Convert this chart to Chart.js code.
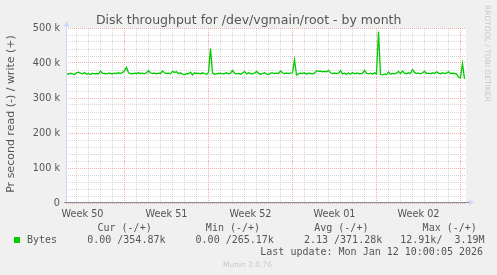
<!DOCTYPE html>
<html>
<head>
<meta charset="utf-8">
<script src="https://cdn.jsdelivr.net/npm/chart.js@4.4.1/dist/chart.umd.min.js"></script>
<style>
html,body{margin:0;padding:0;background:#F0F0F0;}
#wrap{width:497px;height:275px;position:relative;}
canvas{display:block;}
</style>
</head>
<body>
<div id="wrap"><canvas id="c" width="497" height="275"></canvas></div>
<script>
// ---- data (write bytes per second, in k; one value every 4 hours) ----
const seriesName = "Bytes";
const startHour = -116;          // hours relative to Mon Dec 15 2025 00:00
const stepHours = 4;
const writeK = [
 370,368,371,369,367,372,374,371,369,373,368,370,367,371,369,370,369,377,
 371,370,369,371,370,369,371,370,372,370,373,
 378,387,372,
 370,369,371,370,372,370,371,369,372,378,372,370,371,369,371,370,377,372,370,371,369,376,373,375,370,372,368,366,370,369,374,366,372,370,
 371,369,372,370,367,373,441,372,368,369,370,371,369,370,372,369,371,379,371,369,370,368,371,376,369,372,370,369,371,376,371,368,370,372,
 369,367,371,372,370,371,370,377,372,370,371,370,371,372,409,366,369,371,370,372,368,371,370,369,371,378,376,377,375,376,375,379,372,370,371,
 370,371,378,369,371,367,372,368,373,369,371,370,369,371,379,371,369,371,368,372,369,490,367,366,368,367,374,368,370,369,371,376,370,377,
 371,369,372,370,381,373,370,371,369,372,376,370,371,369,372,370,375,371,369,372,370,371,375,370,371,370,369,360,357,398,354.87
];
// ---- axis ----
const xMin = -117, xMax = 683;
const weekLabels = ["Week 50","Week 51","Week 52","Week 01","Week 02"];
const weekLabelHours = [-84, 84, 252, 420, 588];
const weekStartHours = [0, 168, 336, 504, 672];
const yMax = 500000;
const yMajorTicks = [0,100000,200000,300000,400000,500000];
const yTickLabels = ["0","100 k","200 k","300 k","400 k","500 k"];
// ---- legend ----
const legendHeader = "Cur (-/+)         Min (-/+)         Avg (-/+)         Max (-/+)";
const legendRow = "Bytes     0.00 /354.87k     0.00 /265.17k     2.13 /371.28k   12.91k/  3.19M";
const lastUpdate = "Last update: Mon Jan 12 10:00:05 2026";
const titleText = "Disk throughput for /dev/vgmain/root - by month";
const yTitle = "Pr second read (-) / write (+)";

const dayHours = [];
for (let h = -96; h <= 672; h += 24) if (!weekStartHours.includes(h)) dayHours.push(h);
const yMinorTicks = [];
for (let v = 20000; v < yMax; v += 20000) if (v % 100000 !== 0) yMinorTicks.push(v);

const GREEN = '#00CC00';
const MINOR = 'rgba(200,200,200,0.7)';
const MAJOR = 'rgba(240,140,140,0.7)';
const AXIS = '#CFD6F8';
const FONTC = '#555555';

const bgPlugin = {
  id:'bg',
  beforeDraw(chart){
    const {ctx, chartArea:a} = chart;
    ctx.save();
    ctx.fillStyle = '#F0F0F0';
    ctx.fillRect(0,0,chart.width,chart.height);
    ctx.fillStyle = '#FFFFFF';
    ctx.fillRect(a.left, a.top, a.right-a.left, a.bottom-a.top);
    ctx.restore();
  },
  afterDraw(chart){
    const {ctx, chartArea:a} = chart;
    ctx.save();
    // axes
    ctx.strokeStyle = AXIS; ctx.lineWidth = 1;
    ctx.beginPath(); ctx.moveTo(a.left+0.5, a.bottom); ctx.lineTo(a.left+0.5, a.top-5); ctx.stroke();
    ctx.strokeStyle = '#8c8c9c';
    ctx.beginPath(); ctx.moveTo(a.left-2, Math.round(a.bottom)-0.5); ctx.lineTo(a.right+4, Math.round(a.bottom)-0.5); ctx.stroke();
    ctx.fillStyle = AXIS;
    ctx.beginPath(); ctx.moveTo(a.left-2.5, a.top-1.5); ctx.lineTo(a.left+3.5, a.top-1.5); ctx.lineTo(a.left+0.5, a.top-7); ctx.closePath(); ctx.fill();
    const by = Math.round(a.bottom)-0.5;
    ctx.beginPath(); ctx.moveTo(a.right+3, by-3); ctx.lineTo(a.right+3, by+3); ctx.lineTo(a.right+8, by); ctx.closePath(); ctx.fill();
    // title
    ctx.fillStyle = FONTC;
    ctx.font = '12.5px "DejaVu Sans"';
    ctx.textAlign = 'center'; ctx.textBaseline = 'alphabetic';
    ctx.fillText(titleText, 248.7, 23.5);
    // y title
    ctx.save();
    ctx.font = '11px "DejaVu Sans"';
    ctx.translate(14, 114); ctx.rotate(-Math.PI/2);
    ctx.fillText(yTitle, 0, 0);
    ctx.restore();
    // legend
    ctx.font = '10px "DejaVu Sans Mono"';
    ctx.textAlign = 'left';
    ctx.fillText(legendHeader, 97.5, 230.5);
    ctx.fillText(legendRow, 27, 243.3);
    ctx.fillText(lastUpdate, 260.3, 255);
    ctx.fillStyle = GREEN;
    ctx.fillRect(14, 237, 6, 6);
    // watermarks
    ctx.fillStyle = '#C8C8C8';
    ctx.font = '7.5px "DejaVu Sans"';
    ctx.textAlign = 'center';
    ctx.fillText("Munin 2.0.76", 247.5, 267);
    ctx.save();
    ctx.translate(485, 5); ctx.rotate(Math.PI/2);
    ctx.textAlign = 'left';
    ctx.fillText("RRDTOOL / TOBI OETIKER", 0, 0);
    ctx.restore();
    ctx.restore();
  }
};

const tickFont = {family:'"DejaVu Sans"', size:9.7};

new Chart(document.getElementById('c'), {
  type:'line',
  data:{
    datasets:[{
      label: seriesName,
      data: writeK.map((v,i)=>({x: startHour + i*stepHours, y: v*1000})),
      borderColor: GREEN, borderWidth:1.3, pointRadius:0, tension:0, fill:false
    }]
  },
  options:{
    responsive:false, animation:false, devicePixelRatio:1,
    layout:{padding:{left:0, top:28, right:31, bottom:52}},
    plugins:{legend:{display:false}, tooltip:{enabled:false}},
    scales:{
      x:{
        type:'linear', min:xMin, max:xMax, position:'bottom',
        grid:{display:false}, border:{display:false},
        afterBuildTicks: s => { s.ticks = weekLabelHours.map(v=>({value:v})); },
        ticks:{autoSkip:false, maxRotation:0, padding:-2, color:FONTC, font:tickFont,
               callback:(v,i)=>weekLabels[i]},
        afterFit: s => { s.height = 20; }
      },
      xMinor:{
        type:'linear', min:xMin, max:xMax, position:'bottom',
        grid:{color:MINOR, lineWidth:1, drawTicks:false, z:-2},
        border:{display:false, dash:[1,1]},
        ticks:{display:false},
        afterBuildTicks: s => { s.ticks = dayHours.map(v=>({value:v})); },
        afterFit: s => { s.height = 0; }
      },
      xMajor:{
        type:'linear', min:xMin, max:xMax, position:'bottom',
        grid:{color:MAJOR, lineWidth:1, drawTicks:false, z:-1},
        border:{display:false, dash:[1,1]},
        ticks:{display:false},
        afterBuildTicks: s => { s.ticks = weekStartHours.map(v=>({value:v})); },
        afterFit: s => { s.height = 0; }
      },
      y:{
        type:'linear', min:0, max:yMax, position:'left',
        grid:{color:MAJOR, lineWidth:1, drawTicks:false, z:-1},
        border:{display:false, dash:[1,1]},
        afterBuildTicks: s => { s.ticks = yMajorTicks.map(v=>({value:v})); },
        ticks:{padding:6, color:FONTC, font:tickFont, callback:(v,i)=>yTickLabels[i]},
        afterFit: s => { s.width = 66; }
      },
      yMinor:{
        type:'linear', min:0, max:yMax, position:'left',
        grid:{color:MINOR, lineWidth:1, drawTicks:false, z:-2},
        border:{display:false, dash:[1,1]},
        ticks:{display:false},
        afterBuildTicks: s => { s.ticks = yMinorTicks.map(v=>({value:v})); },
        afterFit: s => { s.width = 0; }
      }
    }
  },
  plugins:[bgPlugin]
});
</script>
</body>
</html>
